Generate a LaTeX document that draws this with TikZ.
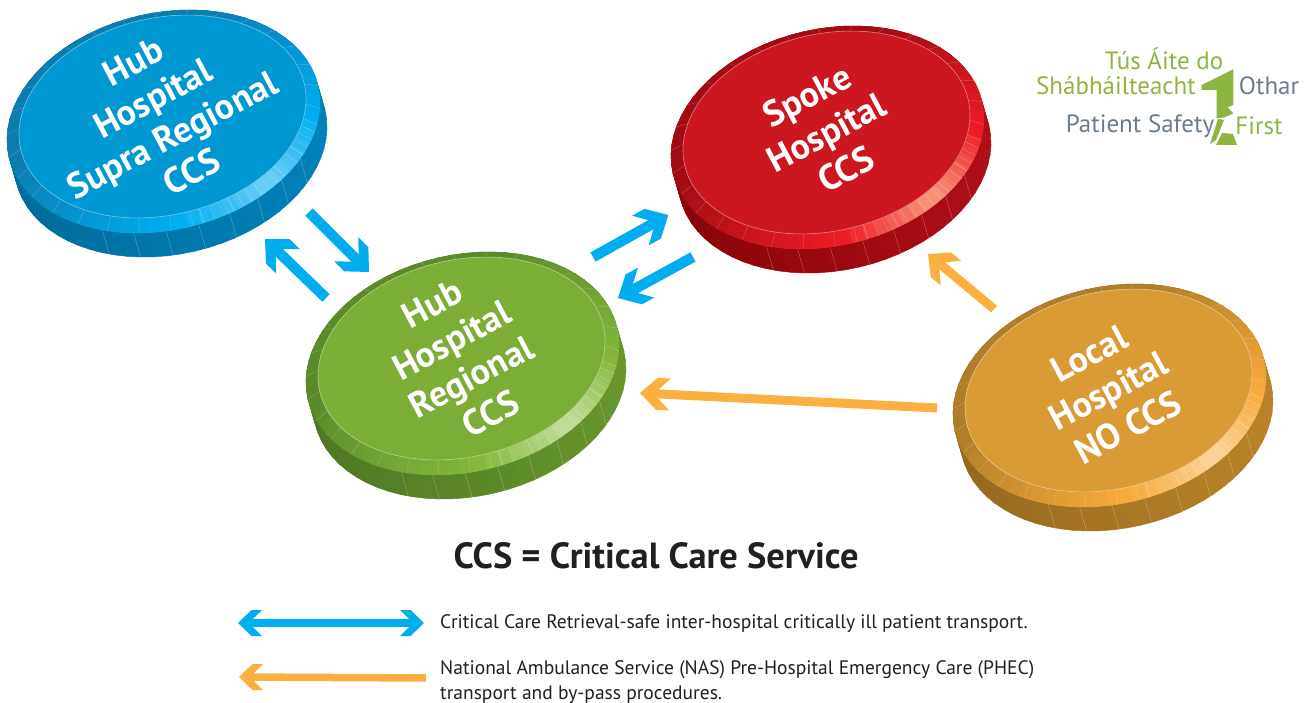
\documentclass[tikz,border=0pt]{standalone}
\usepackage{fontspec}
\setmainfont{PT Sans}
\usetikzlibrary{arrows.meta,shapes.geometric}

\definecolor{transferblue}{HTML}{00AEEF}
\definecolor{nasorange}{HTML}{FBB040}
\definecolor{inktext}{HTML}{231F20}
\definecolor{logogreen}{HTML}{8CB63F}
\definecolor{logogrey}{HTML}{6B7C8C}

\definecolor{supraface}{HTML}{0098D2}
\definecolor{suprarim}{HTML}{0A7CB0}
\definecolor{suprasat}{HTML}{00AEEF}
\definecolor{suprapale}{HTML}{6DCFF6}
\definecolor{supradark}{HTML}{006B99}
\definecolor{supralight}{HTML}{0081B8}

\definecolor{spokeface}{HTML}{CC171F}
\definecolor{spokerim}{HTML}{A00C12}
\definecolor{spokesat}{HTML}{ED1C24}
\definecolor{spokepale}{HTML}{F79A7C}
\definecolor{spokedark}{HTML}{870306}
\definecolor{spokelight}{HTML}{AE0E15}

\definecolor{regionalface}{HTML}{7BAD37}
\definecolor{regionalrim}{HTML}{5C8A2A}
\definecolor{regionalsat}{HTML}{86B83C}
\definecolor{regionalpale}{HTML}{C4DE9C}
\definecolor{regionaldark}{HTML}{4E7623}
\definecolor{regionallight}{HTML}{66962C}

\definecolor{localface}{HTML}{DA9A36}
\definecolor{localrim}{HTML}{B07D2A}
\definecolor{localsat}{HTML}{F8A93B}
\definecolor{localpale}{HTML}{FDD49A}
\definecolor{localdark}{HTML}{95671F}
\definecolor{locallight}{HTML}{B98228}

\pgfdeclarearrow{
  name=Chevron,
  parameters={\the\pgfarrowlength,\the\pgfarrowwidth},
  setup code={
    \pgfarrowssettipend{0pt}
    \pgfarrowssetbackend{-\pgfarrowlength}
    \pgfarrowssetvisualbackend{-\pgfarrowlength}
    \pgfarrowssetlineend{-.6\pgfarrowlength}
    \pgfarrowssavethe\pgfarrowlength
    \pgfarrowssavethe\pgfarrowwidth
    \pgfarrowshullpoint{0pt}{0pt}
    \pgfarrowshullpoint{-\pgfarrowlength}{.5\pgfarrowwidth}
    \pgfarrowshullpoint{-\pgfarrowlength}{-.5\pgfarrowwidth}
  },
  drawing code={
    \pgfpathmoveto{\pgfpoint{0pt}{0pt}}
    \pgfpathlineto{\pgfpoint{-.56\pgfarrowlength}{.5\pgfarrowwidth}}
    \pgfpathlineto{\pgfpoint{-\pgfarrowlength}{.5\pgfarrowwidth}}
    \pgfpathlineto{\pgfpoint{-.62\pgfarrowlength}{.15\pgfarrowwidth}}
    \pgfpathlineto{\pgfpoint{-.62\pgfarrowlength}{-.15\pgfarrowwidth}}
    \pgfpathlineto{\pgfpoint{-\pgfarrowlength}{-.5\pgfarrowwidth}}
    \pgfpathlineto{\pgfpoint{-.56\pgfarrowlength}{-.5\pgfarrowwidth}}
    \pgfpathclose
    \pgfusepathqfill
  },
  defaults={length=32pt,width=34pt}
}

\tikzset{
  coinface/.style={ellipse,inner sep=0pt,minimum width=291pt,minimum height=197pt,rotate=13},
  coinlabel/.style={rotate=28,align=center,inner sep=0pt,text=white,font=\fontsize{36}{41.5}\selectfont\bfseries},
  logotext/.style={font=\fontsize{25}{27}\selectfont},
  transfer/.style={transferblue,line width=10.5pt,-{Chevron[length=32pt,width=34pt]}},
  bypass/.style={nasorange,line width=9pt,-{Chevron[length=30pt,width=32pt]}},
  legendtext/.style={anchor=west,align=left,inner sep=0pt,text=inktext,font=\fontsize{19.5}{24.5}\selectfont},
}

% name, face centre, colour prefix, label
\newcommand{\hospitalcoin}[5]{
  \begin{scope}[shift={(#2+1,#3+5)},rotate=13]
    \foreach \seg in {0,5,...,355}{
      \pgfmathsetmacro{\segnext}{\seg+5}
      \pgfmathtruncatemacro{\sidemix}{50+50*cos(\seg-10)}
      \colorlet{segcolor}{#4light!\sidemix!#4dark}
      \path[fill=segcolor,draw=segcolor,line width=.5pt] ({158.6*cos(\seg)},{108.4*sin(\seg)}) -- ({158.6*cos(\segnext)},{108.4*sin(\segnext)}) -- ({158.6*cos(\segnext)+1.4},{108.4*sin(\segnext)+25}) -- ({158.6*cos(\seg)+1.4},{108.4*sin(\seg)+25}) -- cycle;
    }
    \foreach \seg in {38,50,...,122}
      \draw[white,opacity=.35,line width=.4pt] ({158.6*cos(\seg)},{108.4*sin(\seg)}) -- ({158.6*cos(\seg)+1.4},{108.4*sin(\seg)+25});
    \foreach \seg in {0,5,...,355}{
      \pgfmathsetmacro{\segnext}{\seg+5}
      \pgfmathsetmacro{\segdist}{abs(mod(\seg+2.5-55+540,360)-180)}
      \pgfmathtruncatemacro{\palemix}{max(0,100*(1-\segdist/38))}
      \pgfmathtruncatemacro{\satmix}{max(0,min(100,100*(1-(\segdist-38)/82)))}
      \colorlet{segcolor}{#4sat!\satmix!#4rim}
      \colorlet{segcolor}{#4pale!\palemix!segcolor}
      \path[fill=segcolor,draw=segcolor,line width=.5pt] ({158.6*cos(\seg)},{108.4*sin(\seg)}) -- ({158.6*cos(\segnext)},{108.4*sin(\segnext)}) -- ({.15+145.5*cos(\segnext)},{-5.1+98.6*sin(\segnext)}) -- ({.15+145.5*cos(\seg)},{-5.1+98.6*sin(\seg)}) -- cycle;
    }
    \foreach \seg in {0,12,...,348,20,24,...,88}
      \draw[white,opacity=.25,line width=.4pt] ({158.6*cos(\seg)},{108.4*sin(\seg)}) -- ({.15+145.5*cos(\seg)},{-5.1+98.6*sin(\seg)});
  \end{scope}
  \node[coinface,fill=#4face,draw=white!45!#4face,line width=.6pt] (#1) at (#2,#3) {};
  \node[coinlabel] (#1label) at (#1) {#5};
}

\begin{document}
\begin{tikzpicture}[x=1pt,y=-1pt]
    \useasboundingbox (0,0) rectangle (1312,703);
    \hospitalcoin{supra}{162.5}{116.5}{supra}{Hub\\Hospital\\Supra Regional\\CCS}
    \hospitalcoin{spoke}{826.5}{132.5}{spoke}{Spoke\\Hospital\\CCS}
    \hospitalcoin{regional}{461.5}{358.5}{regional}{Hub\\Hospital\\Regional\\CCS}
    \hospitalcoin{local}{1108.5}{390.5}{local}{Local\\Hospital\\NO CCS}

    \draw[transfer] ([shift={(146.5,95.5)}]supra.center) -- ([shift={(-92.5,-86.5)}]regional.center);
    \draw[transfer] ([shift={(-135.5,-60.5)}]regional.center) -- ([shift={(102.5,122.5)}]supra.center);
    \draw[transfer] ([shift={(131.5,-101.5)}]regional.center) -- ([shift={(-158.2,82.5)}]spoke.center);
    \draw[transfer] ([shift={(-133.5,124.5)}]spoke.center) -- ([shift={(156.5,-60.5)}]regional.center);
    \draw[bypass] ([shift={(-114.5,-81.5)}]local.center) -- ([shift={(101.5,121.5)}]spoke.center);
    \draw[bypass] ([shift={(-171.5,17.5)}]local.center) -- ([shift={(178.5,34.5)}]regional.center);

    \node[text=inktext,font=\fontsize{36.4}{40}\selectfont\bfseries] (title) at (656,556) {CCS = Critical Care Service};

    \node[legendtext] (legendretrieval) at (440,624) {Critical Care Retrieval-safe inter-hospital critically ill patient transport.};
    \node[legendtext] (legendnas) at (440,682) {National Ambulance Service (NAS) Pre-Hospital Emergency Care (PHEC)\\transport and by-pass procedures.};
    \draw[transferblue,line width=7.5pt,{Chevron[length=24pt,width=26pt]}-{Chevron[length=24pt,width=26pt]}] ([xshift=-202pt,yshift=1pt]legendretrieval.west) -- ([xshift=-16pt,yshift=1pt]legendretrieval.west);
    \draw[nasorange,line width=7.5pt,{Chevron[length=24pt,width=26pt]}-] ([xshift=-201pt,yshift=5pt]legendnas.west) -- ([xshift=-14pt,yshift=4pt]legendnas.west);

    % logo
    \node[logotext,text=logogreen] (logotop) at (1164,59) {Tús Áite do};
    \node[logotext,text=logogreen] (logoirish) at (1116,86) {Shábháilteacht};
    \node[logotext,text=logogrey] (logoothar) at (1269,86) {Othar};
    \node[logotext,text=logogrey] (logosafety) at (1140,126) {Patient Safety};
    \node[logotext,text=logogreen] (logofirst) at (1259,126) {First};
    \fill[logogreen] (1201.7,85) -- (1233.3,69.3) -- (1233.3,105) -- (1227.3,107.3) -- (1233.3,113.3) -- (1225,117.3) -- (1216.7,118.3) -- (1216.7,90) -- (1201.7,90) -- cycle;
    \fill[logogreen] (1218,119) -- (1224,120) -- (1216,140) -- (1210,144) -- cycle;
    \fill[logogreen] (1222,133) -- (1233,134) -- (1237,145) -- (1216,145) -- cycle;
\end{tikzpicture}
\end{document}
